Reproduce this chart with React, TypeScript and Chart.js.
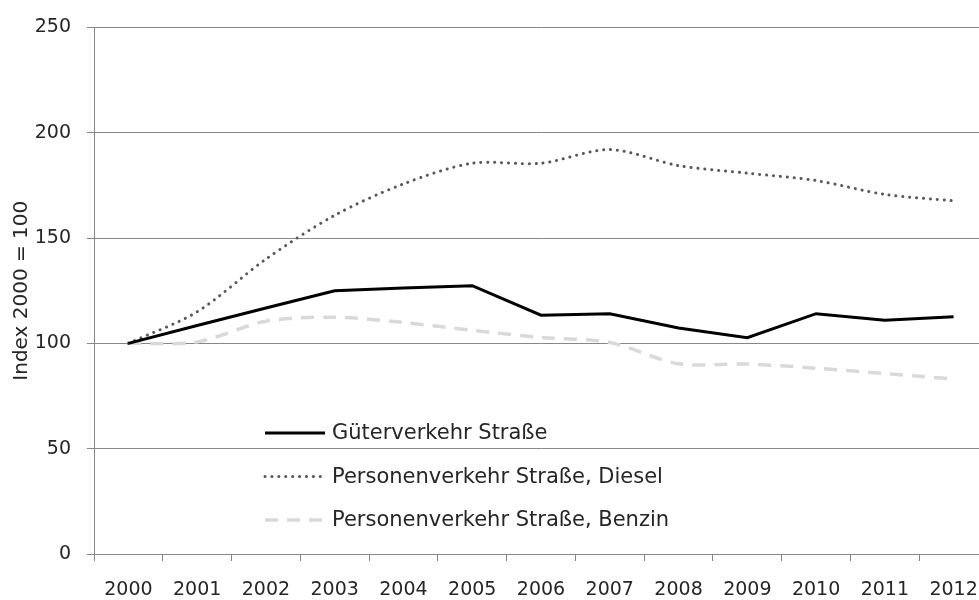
import React, { useEffect, useRef } from "react";
import { Chart, registerables } from "chart.js";

Chart.register(...registerables);

const years = ["2000", "2001", "2002", "2003", "2004", "2005", "2006", "2007", "2008", "2009", "2010", "2011", "2012"];
const gueterverkehr = [100, 108.5, 116.8, 125, 126.3, 127.4, 113.4, 114.1, 107.3, 102.7, 114.1, 111, 112.6];
const diesel = [100, 115, 140, 160.8, 175.7, 185.5, 185.5, 192, 184.4, 180.8, 177.3, 170.7, 167.7];
const benzin = [100, 100.7, 110.5, 112.4, 109.9, 106.2, 102.8, 100.4, 90.3, 90.2, 88.2, 85.7, 83.1];
const seriesLabels = ["Güterverkehr Straße", "Personenverkehr Straße, Diesel", "Personenverkehr Straße, Benzin"];
const yTitle = "Index 2000 = 100";

const FONT = "'DejaVu Sans', sans-serif";
const GRID = "#878787";
const TEXT = "#262626";

const legendPlugin = {
  id: "insideLegend",
  afterDraw(chart: any) {
    const ctx = chart.ctx;
    const x0 = 265;
    const x1 = 325;
    const tx = 332;
    const rows = [433, 476.5, 520];
    ctx.save();
    ctx.font = `21px ${FONT}`;
    ctx.textBaseline = "middle";
    ctx.textAlign = "left";
    chart.data.datasets.forEach((ds: any, i: number) => {
      const y = rows[i];
      ctx.beginPath();
      ctx.strokeStyle = ds.borderColor;
      ctx.lineWidth = ds.borderWidth;
      ctx.lineCap = ds.borderCapStyle || "butt";
      ctx.setLineDash(ds.borderDash || []);
      ctx.moveTo(x0, y);
      ctx.lineTo(x1, y);
      ctx.stroke();
      ctx.setLineDash([]);
      ctx.fillStyle = TEXT;
      ctx.fillText(ds.label, tx, y + 1);
    });
    ctx.restore();
  },
};

export default function App() {
  const ref = useRef<HTMLCanvasElement>(null);
  useEffect(() => {
    document.body.style.margin = "0";
    const chart = new Chart(ref.current as HTMLCanvasElement, {
      type: "line",
      data: {
        labels: years,
        datasets: [
          {
            label: seriesLabels[0],
            data: gueterverkehr,
            borderColor: "#000000",
            borderWidth: 3,
            tension: 0,
            pointRadius: 0,
            borderCapStyle: "butt",
          },
          {
            label: seriesLabels[1],
            data: diesel,
            borderColor: "#595959",
            borderWidth: 3,
            borderDash: [0.1, 6.8],
            borderCapStyle: "round",
            tension: 0.3,
            pointRadius: 0,
          },
          {
            label: seriesLabels[2],
            data: benzin,
            borderColor: "#d9d9d9",
            borderWidth: 3.5,
            borderDash: [13, 9],
            borderCapStyle: "butt",
            tension: 0.3,
            pointRadius: 0,
          },
        ] as any,
      },
      options: {
        animation: false,
        responsive: false,
        maintainAspectRatio: false,
        layout: { padding: { top: 24, right: 12, left: 0, bottom: 0 } },
        plugins: { legend: { display: false }, tooltip: { enabled: false } },
        scales: {
          x: {
            offset: true,
            grid: {
              offset: true,
              drawOnChartArea: false,
              drawTicks: true,
              tickLength: 7,
              color: GRID,
            },
            border: { display: true, color: GRID, width: 1 },
            ticks: {
              color: TEXT,
              font: { family: FONT, size: 19 },
              padding: 18,
              maxRotation: 0,
              autoSkip: false,
            },
            afterFit(scale: any) {
              scale.height = 46;
            },
          },
          y: {
            min: 0,
            max: 250,
            ticks: {
              stepSize: 50,
              color: TEXT,
              font: { family: FONT, size: 19 },
              padding: 16,
            },
            grid: { color: GRID, lineWidth: 1, tickLength: 7 },
            border: { display: true, color: GRID, width: 1 },
            title: {
              display: true,
              text: yTitle,
              color: TEXT,
              font: { family: FONT, size: 20 },
              padding: { top: 10, bottom: 0 },
            },
            afterFit(scale: any) {
              scale.width = 94;
            },
          },
        },
      } as any,
      plugins: [legendPlugin],
    });
    return () => chart.destroy();
  }, []);
  return (
    <div style={{ position: "absolute", left: 0, top: 0, width: 979, height: 600, overflow: "hidden", background: "#fff" }}>
      <canvas ref={ref} width={1000} height={600} style={{ display: "block", width: 1000, height: 600 }} />
    </div>
  );
}
